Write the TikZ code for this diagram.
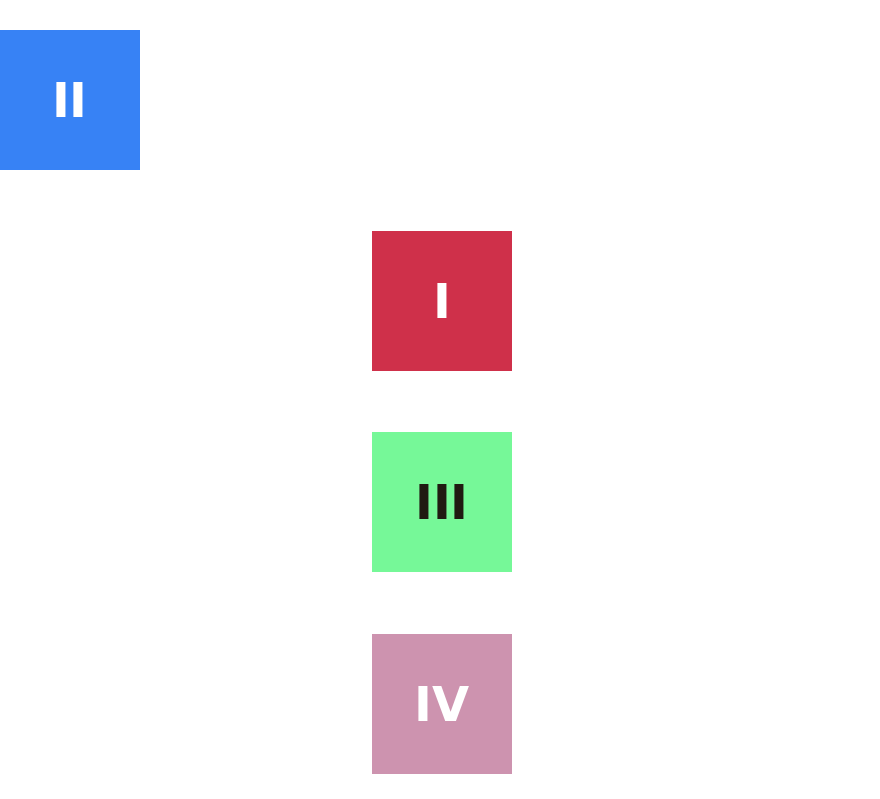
\documentclass[tikz,border=0pt]{standalone}
\usepackage{fontspec}
\setmainfont{DejaVu Sans}
\definecolor{tileBlue}{RGB}{55,130,245}
\definecolor{tileRed}{RGB}{207,48,74}
\definecolor{tileGreen}{RGB}{118,248,152}
\definecolor{tilePink}{RGB}{205,147,175}
\definecolor{tileDark}{RGB}{32,26,18}
\usetikzlibrary{positioning}

\begin{document}
\begin{tikzpicture}[
  x=1pt, y=-1pt,
  tile/.style={minimum width=140pt, minimum height=140pt, inner sep=0pt,
               font=\fontsize{48}{48}\selectfont\bfseries, text=white}
]
  \useasboundingbox (0,0) rectangle (880,798);

  \node[tile, fill=tileBlue]                          (boxII)  at (70,100)  {II};
  \node[tile, fill=tileRed]                           (boxI)   at (442,301) {I};
  \node[tile, fill=tileGreen, text=tileDark, below=61pt of boxI]  (boxIII) {III};
  \node[tile, fill=tilePink, below=61pt of boxIII]    (boxIV)  {IV};
\end{tikzpicture}
\end{document}
